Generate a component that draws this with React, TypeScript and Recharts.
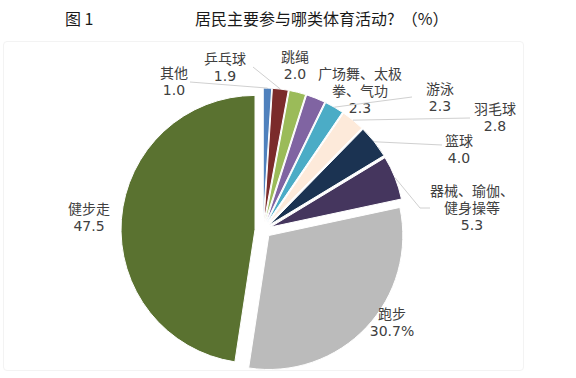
import React from 'react';
import { PieChart, Pie, Sector } from 'recharts';

// 居民主要参与哪类体育活动？（%）
const categories = [
  '其他',
  '乒乓球',
  '跳绳',
  '广场舞、太极拳、气功',
  '游泳',
  '羽毛球',
  '篮球',
  '器械、瑜伽、健身操等',
  '跑步',
  '健步走',
];
const shares = [1.0, 1.9, 2.0, 2.3, 2.3, 2.8, 4.0, 5.3, 30.7, 47.5];
const valueSuffix = ['', '', '', '', '', '', '', '', '%', ''];

const colors = [
  '#4F81BD',
  '#7B2B2B',
  '#9BBB59',
  '#8064A2',
  '#4BACC6',
  '#FDEADA',
  '#1B3352',
  '#45365E',
  '#BBBBBB',
  '#5A7230',
];

// label layout: wrapped lines, anchor (centre of first line), leader line end
const nameLines = [
  ['其他'],
  ['乒乓球'],
  ['跳绳'],
  ['广场舞、太极', '拳、气功'],
  ['游泳'],
  ['羽毛球'],
  ['篮球'],
  ['器械、瑜伽、', '健身操等'],
  ['跑步'],
  ['健步走'],
];
const labelAt: [number, number][] = [
  [174, 73],
  [225, 59],
  [295, 57],
  [360, 74],
  [440, 89],
  [495, 109],
  [459, 141],
  [472, 191],
  [392, 314],
  [89, 209],
];
const leaderTo: ([number, number][] | null)[] = [
  [[190, 82]],
  [[253, 67]],
  null,
  null,
  [[412, 97]],
  [[470, 118]],
  [[442, 145]],
  [[420, 208], [430, 208]],
  null,
  null,
];

const data = categories.map((name, i) => ({ name, value: shares[i] }));

const RAD = Math.PI / 180;
const EXPLODE = 8;
const LINE_H = 17;

const renderSlice = (props: any) => {
  const { cx, cy, midAngle, startAngle, endAngle, outerRadius, index } = props;
  const ox = cx + EXPLODE * Math.cos(-midAngle * RAD);
  const oy = cy + EXPLODE * Math.sin(-midAngle * RAD);
  const ex = ox + outerRadius * Math.cos(-midAngle * RAD);
  const ey = oy + outerRadius * Math.sin(-midAngle * RAD);
  const [lx, ly] = labelAt[index];
  const lines = [...nameLines[index], shares[index].toFixed(1) + valueSuffix[index]];
  const leader = leaderTo[index];
  return (
    <g key={`slice-${index}`}>
      <Sector
        cx={ox}
        cy={oy}
        innerRadius={0}
        outerRadius={outerRadius}
        startAngle={startAngle}
        endAngle={endAngle}
        fill={colors[index]}
        stroke="#ffffff"
        strokeWidth={1}
      />
      {leader && (
        <polyline
          points={[[ex, ey], ...leader].map((p) => p.join(',')).join(' ')}
          fill="none"
          stroke="#d0d0d0"
          strokeWidth={1}
        />
      )}
      {lines.map((t, k) => (
        <text
          key={k}
          x={lx}
          y={ly + k * LINE_H}
          textAnchor="middle"
          dominantBaseline="central"
          fontSize={14}
          fill="#404040"
          fontFamily="'DejaVu Sans', 'Noto Sans CJK SC', sans-serif"
        >
          {t}
        </text>
      ))}
    </g>
  );
};

export default function App() {
  return (
    <div
      style={{
        position: 'absolute',
        left: 0,
        top: 0,
        width: 576,
        height: 378,
        background: '#ffffff',
        fontFamily: "'Noto Sans CJK SC', sans-serif",
      }}
    >
      <div
        style={{
          position: 'absolute',
          left: 3,
          top: 41,
          width: 519,
          height: 328,
          border: '1px solid #f3f3f3',
          borderRadius: 4,
        }}
      />
      <div style={{ position: 'absolute', left: 65, top: 7, fontSize: 16, lineHeight: '22px', color: '#1a1a1a' }}>
        图 1
      </div>
      <div style={{ position: 'absolute', left: 195, top: 7, fontSize: 16, lineHeight: '22px', color: '#1a1a1a', whiteSpace: 'pre' }}>
        居民主要参与哪类体育活动?  （%）
      </div>
      <div style={{ position: 'absolute', left: 0, top: 0 }}>
        <PieChart width={576} height={378} margin={{ top: 0, right: 0, bottom: 0, left: 0 }}>
          <Pie
            data={data}
            dataKey="value"
            nameKey="name"
            cx={263}
            cy={230}
            innerRadius={0}
            outerRadius={134}
            startAngle={90}
            endAngle={-270}
            fill="none"
            stroke="none"
            label={renderSlice}
            labelLine={false}
            isAnimationActive={false}
          />
        </PieChart>
      </div>
    </div>
  );
}
